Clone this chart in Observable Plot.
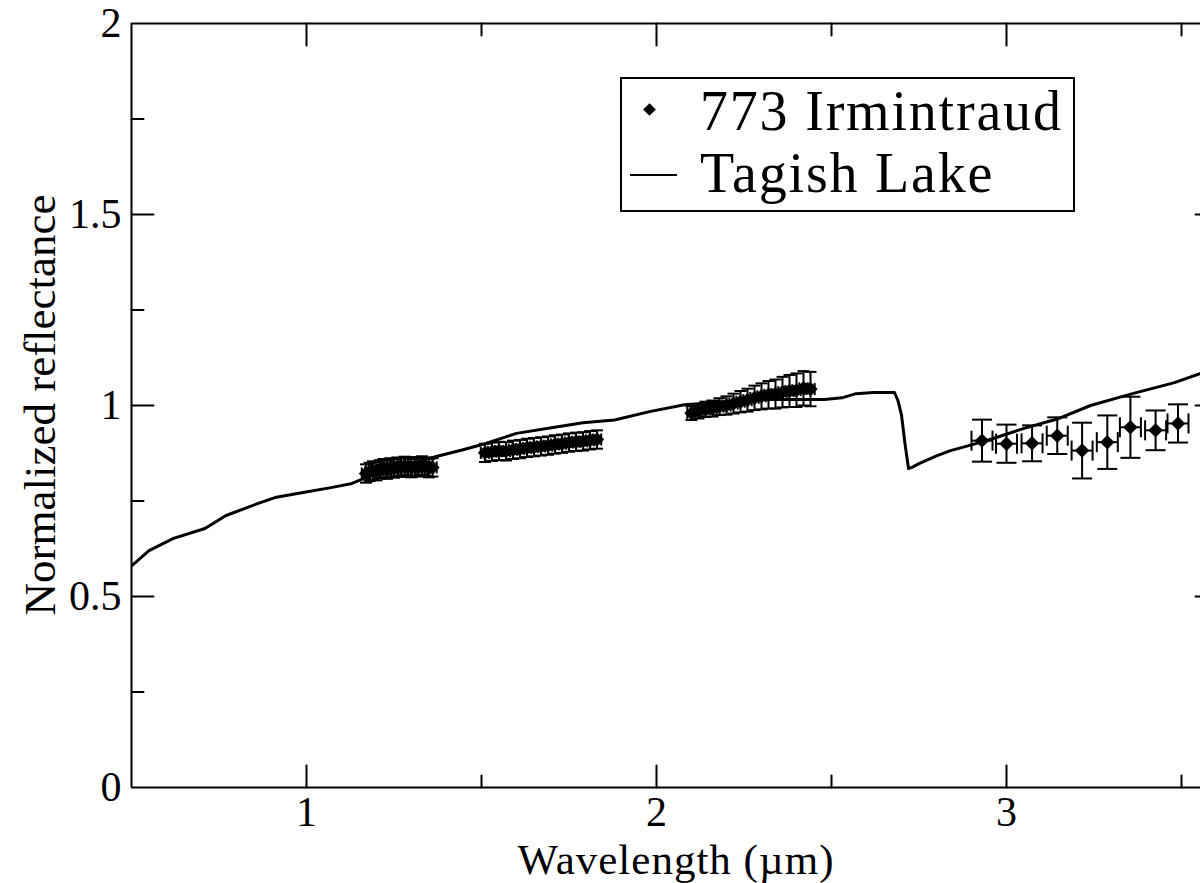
<!DOCTYPE html>
<html><head><meta charset="utf-8">
<script src="https://cdn.jsdelivr.net/npm/d3@7"></script>
<script src="https://cdn.jsdelivr.net/npm/@observablehq/plot@0.6"></script>
<style>
html,body{margin:0;padding:0;background:#fff;overflow:hidden}
#wrap{position:relative;width:1200px;height:883px;font-family:"Liberation Serif","Times New Roman",serif;color:#000}
.t{position:absolute;white-space:nowrap;line-height:0.8}
</style></head><body><div id="wrap"></div>
<script>
// Tagish Lake spectrum (wavelength µm, normalized reflectance)
const tagishX = [0.50,0.55,0.62,0.71,0.77,0.86,0.91,0.99,1.07,1.13,1.18,1.25,1.36,1.45,1.51,1.60,1.70,1.79,1.88,1.98,2.08,2.17,2.27,2.38,2.48,2.53,2.57,2.62,2.68,2.69,2.70,2.71,2.72,2.73,2.75,2.80,2.84,2.90,2.96,3.05,3.15,3.24,3.36,3.48,3.56];
const tagishY = [0.580,0.620,0.652,0.678,0.712,0.743,0.759,0.772,0.785,0.796,0.815,0.835,0.864,0.885,0.900,0.927,0.942,0.955,0.962,0.984,1.002,1.008,1.016,1.016,1.016,1.020,1.031,1.034,1.034,1.013,0.975,0.900,0.835,0.838,0.848,0.868,0.882,0.897,0.913,0.940,0.966,1.000,1.031,1.060,1.086];

// 773 Irmintraud, near-infrared (0.8-2.5 µm) points
const nirX = [1.17,1.18,1.19,1.20,1.21,1.22,1.23,1.24,1.25,1.26,1.27,1.28,1.29,1.30,1.31,1.32,1.33,1.34,1.35,1.36,
              1.51,1.53,1.55,1.57,1.59,1.61,1.63,1.65,1.67,1.69,1.71,1.73,1.75,1.77,1.79,1.81,1.83,
              2.10,2.12,2.14,2.16,2.18,2.20,2.22,2.24,2.26,2.28,2.30,2.32,2.34,2.36,2.38,2.40,2.42,2.44];
const nirY = [0.822,0.826,0.830,0.828,0.833,0.836,0.832,0.838,0.835,0.840,0.837,0.842,0.839,0.836,0.841,0.838,0.843,0.840,0.836,0.838,
              0.876,0.879,0.881,0.880,0.884,0.886,0.889,0.891,0.893,0.895,0.898,0.900,0.903,0.905,0.906,0.909,0.911,
              0.980,0.985,0.990,0.992,0.997,1.000,1.005,1.010,1.014,1.020,1.024,1.028,1.030,1.035,1.038,1.040,1.045,1.043];
const nirYerr = [0.024,0.024,0.024,0.024,0.024,0.024,0.024,0.024,0.024,0.024,0.024,0.024,0.024,0.024,0.024,0.024,0.024,0.024,0.024,0.024,
                 0.024,0.024,0.024,0.024,0.024,0.024,0.024,0.024,0.024,0.024,0.024,0.024,0.024,0.024,0.024,0.024,0.024,
                 0.018,0.019,0.020,0.021,0.022,0.024,0.026,0.028,0.030,0.032,0.034,0.036,0.038,0.040,0.042,0.044,0.045,0.045];
const nirXerr = 0.012;

// 773 Irmintraud, 3 µm (L-band) points
const lbX = [2.93,3.00,3.073,3.145,3.216,3.288,3.354,3.426,3.49];
const lbY = [0.908,0.900,0.901,0.921,0.882,0.904,0.943,0.935,0.953];
const lbYerr = [0.055,0.050,0.047,0.048,0.073,0.070,0.080,0.052,0.050];
const lbXerr = [0.03,0.03,0.03,0.03,0.03,0.03,0.03,0.03,0.03];

const xMajor = [1,2,3];
const xMinor = [1.5,2.5,3.5];
const yMajor = [0,0.5,1,1.5,2];
const yMinor = [0.25,0.75,1.25,1.75];

const tagish = tagishX.map((x,i)=>({x, y: tagishY[i]}));
const nir = nirX.map((x,i)=>({x, y: nirY[i], ye: nirYerr[i], xe: nirXerr}));
const lb = lbX.map((x,i)=>({x, y: lbY[i], ye: lbYerr[i], xe: lbXerr[i]}));

const hcap = {draw(ctx,size){const w=Math.sqrt(size/Math.PI); ctx.moveTo(-w,0); ctx.lineTo(w,0);}};
const vcap = {draw(ctx,size){const w=Math.sqrt(size/Math.PI); ctx.moveTo(0,-w); ctx.lineTo(0,w);}};
const tick = {draw(ctx,l){ctx.moveTo(0,0); ctx.lineTo(0,-l);}};

function errMarks(data, capR){
  return [
    Plot.ruleX(data, {x:"x", y1:d=>d.y-d.ye, y2:d=>d.y+d.ye, stroke:"black", strokeWidth:2}),
    Plot.ruleY(data, {y:"y", x1:d=>d.x-d.xe, x2:d=>d.x+d.xe, stroke:"black", strokeWidth:2}),
    Plot.dot(data, {x:"x", y:d=>d.y+d.ye, symbol:hcap, r:capR, fill:"none", stroke:"black", strokeWidth:2}),
    Plot.dot(data, {x:"x", y:d=>d.y-d.ye, symbol:hcap, r:capR, fill:"none", stroke:"black", strokeWidth:2}),
    Plot.dot(data, {x:d=>d.x-d.xe, y:"y", symbol:vcap, r:capR, fill:"none", stroke:"black", strokeWidth:2}),
    Plot.dot(data, {x:d=>d.x+d.xe, y:"y", symbol:vcap, r:capR, fill:"none", stroke:"black", strokeWidth:2}),
    Plot.dot(data, {x:"x", y:"y", symbol:"diamond2", r:6.5, fill:"black", stroke:"none"})
  ];
}

const xEnd = 0.5 + (1200-131)/350;
const plot = Plot.plot({
  width: 1200, height: 883,
  marginLeft: 131, marginRight: 0, marginTop: 23, marginBottom: 96,
  style: {fontFamily: "Liberation Serif, Times New Roman, serif", fontSize: "42px", color: "black", background: "white"},
  x: {domain: [0.5, xEnd], axis: null},
  y: {domain: [0, 2], axis: null},
  marks: [
    Plot.ruleY([0, 2], {y: d=>d, stroke:"black", strokeWidth:2}),
    Plot.ruleX([0.5], {x: d=>d, stroke:"black", strokeWidth:2}),
    Plot.vector(xMajor, {x:d=>d, y:()=>0, length:22, rotate:0, anchor:"start", shape:tick, stroke:"black", strokeWidth:2}),
    Plot.vector(xMinor, {x:d=>d, y:()=>0, length:12, rotate:0, anchor:"start", shape:tick, stroke:"black", strokeWidth:2}),
    Plot.vector(xMajor, {x:d=>d, y:()=>2, length:22, rotate:180, anchor:"start", shape:tick, stroke:"black", strokeWidth:2}),
    Plot.vector(xMinor, {x:d=>d, y:()=>2, length:12, rotate:180, anchor:"start", shape:tick, stroke:"black", strokeWidth:2}),
    Plot.vector(yMajor.slice(1,4), {x:()=>0.5, y:d=>d, length:22, rotate:90, anchor:"start", shape:tick, stroke:"black", strokeWidth:2}),
    Plot.vector(yMinor, {x:()=>0.5, y:d=>d, length:12, rotate:90, anchor:"start", shape:tick, stroke:"black", strokeWidth:2}),
    Plot.vector(yMajor.slice(1,4), {x:()=>xEnd, y:d=>d, length:5, rotate:-90, anchor:"start", shape:tick, stroke:"black", strokeWidth:2}),
    Plot.axisX(xMajor, {anchor:"bottom", tickSize:0, tickPadding:9, fontSize:42, tickFormat:d=>String(d), label:null}),
    Plot.axisY(yMajor, {anchor:"left", tickSize:0, tickPadding:10, fontSize:42, tickFormat:d=>String(d), label:null}),
    Plot.line(tagish, {x:"x", y:"y", stroke:"black", strokeWidth:3, clip:true}),
    ...errMarks(nir, 6),
    ...errMarks(lb, 10)
  ]
});
const wrap = document.getElementById("wrap");
wrap.appendChild(plot);

function addText(txt, css){const d=document.createElement("div"); d.className="t"; d.textContent=txt; Object.assign(d.style, css); wrap.appendChild(d); return d;}
addText("Wavelength (µm)", {left:"676px", top:"843px", fontSize:"43px", letterSpacing:"1px", transform:"translateX(-50%)"});
addText("Normalized reflectance", {left:"40px", top:"405px", fontSize:"45px", transform:"translate(-50%,-50%) rotate(-90deg)"});

// legend
const box = document.createElement("div");
Object.assign(box.style, {position:"absolute", left:"620px", top:"77px", width:"455px", height:"135px", border:"2px solid #000", boxSizing:"border-box", background:"#fff"});
wrap.appendChild(box);
const dia = document.createElement("div");
Object.assign(dia.style, {position:"absolute", left:"645px", top:"105px", width:"9px", height:"9px", background:"#000", transform:"rotate(45deg)"});
wrap.appendChild(dia);
const ln = document.createElement("div");
Object.assign(ln.style, {position:"absolute", left:"630px", top:"174px", width:"47px", height:"2px", background:"#000"});
wrap.appendChild(ln);
const leg = document.createElement("div");
leg.className = "t";
Object.assign(leg.style, {left:"700px", top:"80px", fontSize:"56px", lineHeight:"62px", letterSpacing:"1.8px"});
leg.innerHTML = "773 Irmintraud<br>Tagish Lake";
wrap.appendChild(leg);
</script></body></html>
